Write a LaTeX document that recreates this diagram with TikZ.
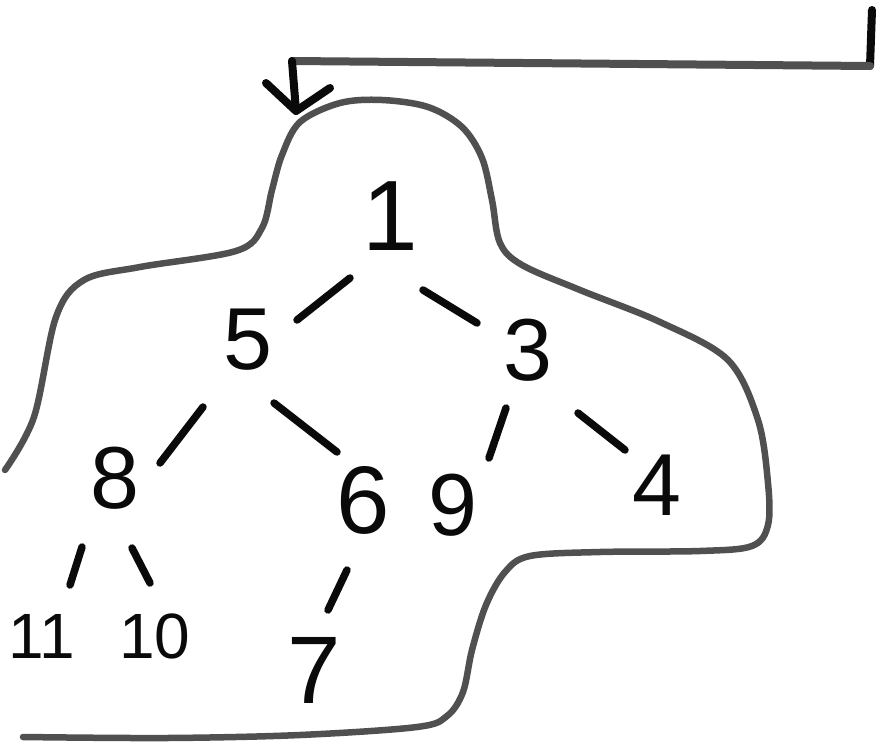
\documentclass[tikz,border=0pt]{standalone}
\usepackage{fontspec}
\setmainfont{Liberation Sans}
\usetikzlibrary{calc}
\definecolor{blobgray}{HTML}{505050}
\definecolor{inkblack}{HTML}{0A0A0A}
\begin{document}
\begin{tikzpicture}[x=1pt,y=-1pt,
  digit/.style={inner sep=0pt, text=inkblack, font=\fontsize{88}{88}\selectfont},
  bigdigit/.style={digit, font=\fontsize{100}{100}\selectfont},
  tall/.style={digit, font=\fontsize{96}{96}\selectfont},
  smalldigit/.style={digit, font=\fontsize{64}{64}\selectfont},
  edge/.style={line width=7.5pt, line cap=round, inkblack},
  blob/.style={line width=6.5pt, line cap=round, line join=round, blobgray},
  ink/.style={line width=8pt, line cap=round, line join=round, inkblack},
  arrowline/.style={line width=8pt, line cap=round, blobgray}]
\useasboundingbox (0,0) rectangle (878,747);
\fill[white] (0,0) rectangle (878,747);

% tree nodes
\node[bigdigit] (n1) at (390,216) {1};
\node[digit] (n5) at (248,340) {5};
\node[digit] (n3) at (528,350) {3};
\node[digit] (n8) at (115,478) {8};
\node[tall] (n6) at (363,500) {6};
\node[digit] (n9) at (453,505) {9};
\node[digit] (n4) at (657,485) {4};
\node[smalldigit] (n11) at (42,636) {11};
\node[smalldigit] (n10) at (155,636) {10};
\node[tall] (n7) at (314,670) {7};

% edges
\draw[edge] ($(n1)+(-40,62)$) -- ($(n5)+(49,-20)$);
\draw[edge] ($(n1)+(33,74)$) -- ($(n3)+(-51,-27)$);
\draw[edge] ($(n5)+(-45,67)$) -- ($(n8)+(45,-15)$);
\draw[edge] ($(n5)+(26,63)$) -- ($(n6)+(-26,-48)$);
\draw[edge] ($(n3)+(-22,58)$) -- ($(n9)+(36,-47)$);
\draw[edge] ($(n3)+(50,63)$) -- ($(n4)+(-32,-35)$);
\draw[edge] ($(n8)+(-33,69)$) -- ($(n11)+(28,-51)$);
\draw[edge] ($(n8)+(17,70)$) -- ($(n10)+(-5,-53)$);
\draw[edge] ($(n6)+(-16,70)$) -- ($(n7)+(14,-60)$);

% blob outline
\draw[blob] plot[smooth, tension=0.55] coordinates {
  (5,470) (34,417) (56,317) (84,280) (140,267) (236,251)
  (262,228) (272,190) (282,155) (300,122) (340,103) (382,100)
  (428,107) (462,127) (482,158) (492,200) (500,243) (522,265)
  (580,290) (660,322) (728,360) (758,420) (768,483) (768,525)
  (752,546) (700,551) (600,552) (530,556) (505,572) (486,605)
  (472,650) (463,692) (447,716) (417,727) (300,735) (167,738) (23,737)};

% arrow
\coordinate (r0) at (872,10);
\coordinate (r1) at (870,66);
\coordinate (l0) at (292,61);
\coordinate (tip) at (296,111);
\coordinate (armL) at (266,83);
\coordinate (armR) at (330,88);
\draw[ink] (r0) -- (r1);
\draw[arrowline] (r1) -- (l0);
\draw[ink] (l0) -- (tip);
\draw[ink] (armL) -- (tip) -- (armR);
\end{tikzpicture}
\end{document}
